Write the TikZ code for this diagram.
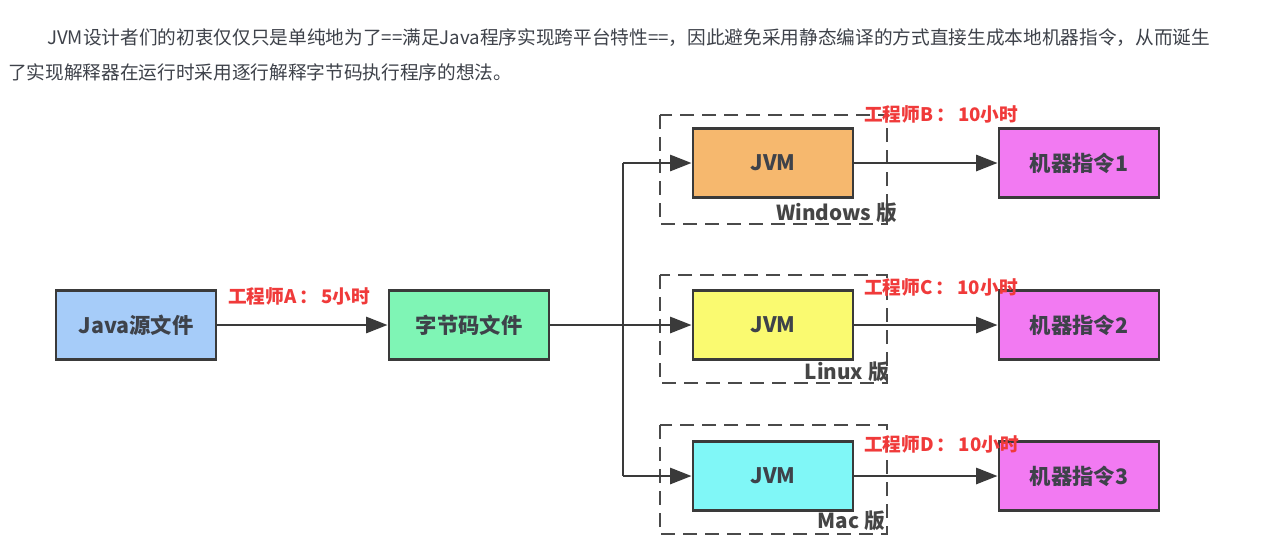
\documentclass[tikz,border=0pt]{standalone}
\usepackage{fontspec}
\setmainfont{Noto Sans CJK SC}
\usetikzlibrary{arrows.meta,positioning}
\definecolor{txtgray}{HTML}{3E424A}
\definecolor{osgray}{HTML}{454545}
\definecolor{boxline}{HTML}{3A3A3A}
\definecolor{javablue}{HTML}{A6CCF9}
\definecolor{bcgreen}{HTML}{7FF5B5}
\definecolor{winorange}{HTML}{F6B86E}
\definecolor{linyellow}{HTML}{FAFA70}
\definecolor{maccyan}{HTML}{80F7F7}
\definecolor{machpink}{HTML}{F27AF2}
\definecolor{lblred}{HTML}{F03A3A}
\definecolor{dashgray}{HTML}{4A4A4A}
\tikzset{
  stagebox/.style={draw=boxline, line width=2.2pt, minimum width=120pt, minimum height=52pt, inner sep=0pt,
    font=\fontsize{16}{18}\selectfont\bfseries, text=txtgray},
  flow/.style={draw=boxline, line width=1.9pt, -{Triangle[length=16pt,width=12pt]}},
  trunk/.style={draw=boxline, line width=1.9pt},
  osframe/.style={draw=dashgray, line width=2pt, dash pattern=on 10.5pt off 6pt},
  englabel/.style={text=lblred, font=\fontsize{14}{16}\selectfont\bfseries, inner sep=0pt, anchor=west},
  oslabel/.style={text=osgray, font=\fontsize{15.5}{18}\selectfont\bfseries, inner sep=0pt, anchor=east},
  para/.style={text=txtgray, font=\fontsize{14}{18}\selectfont, inner sep=0pt, anchor=west}
}
\begin{document}
\begin{tikzpicture}[x=0.75pt,y=-0.75pt]
\useasboundingbox[fill=white] (0,0) rectangle (1269,553);

% paragraph
\node[para] (p1) at (47,38) {JVM设计者们的初衷仅仅只是单纯地为了==满足Java程序实现跨平台特性==，因此避免采用静态编译的方式直接生成本地机器指令，从而诞生};
\node[para] (p2) at (8,72) {了实现解释器在运行时采用逐行解释字节码执行程序的想法。};

% dashed frames
\draw[osframe] (660,115) rectangle (887,224);
\draw[osframe] (660,275) rectangle (887,383);
\draw[osframe] (660,425) rectangle (887,534);

% boxes
\node[stagebox, fill=javablue] (java) at (136,325) {Java源文件};
\node[stagebox, fill=bcgreen] (bc) at (469,325) {字节码文件};
\node[stagebox, fill=winorange] (jw) at (773,163) {JVM};
\node[stagebox, fill=linyellow] (jl) at (773,325) {JVM};
\node[stagebox, fill=maccyan] (jm) at (773,476) {JVM};
\node[stagebox, fill=machpink] (m1) at (1079,163) {机器指令1};
\node[stagebox, fill=machpink] (m2) at (1079,325) {机器指令2};
\node[stagebox, fill=machpink] (m3) at (1079,476) {机器指令3};

% connectors
\coordinate (split) at (623,325);
\draw[flow] (java) -- (bc);
\draw[flow] (bc) -- (jl);
\draw[trunk] (split |- jw.west) -- (split |- jm.west);
\draw[flow] (split |- jw.west) -- (jw);
\draw[flow] (split |- jm.west) -- (jm);
\draw[flow] (jw) -- (m1);
\draw[flow] (jl) -- (m2);
\draw[flow] (jm) -- (m3);

% labels
\node[englabel] (la) at (228,296) {工程师A\,：\,5小时};
\node[englabel] (lb) at (864,114) {工程师B\,：\,10小时};
\node[englabel] (lc) at (864,287) {工程师C\,：\,10小时};
\node[englabel] (ld) at (864,444) {工程师D\,：\,10小时};
\node[oslabel] (ow) at (897,213) {Windows 版};
\node[oslabel] (ol) at (889,372) {Linux 版};
\node[oslabel] (om) at (885,521) {Mac 版};
\end{tikzpicture}
\end{document}
